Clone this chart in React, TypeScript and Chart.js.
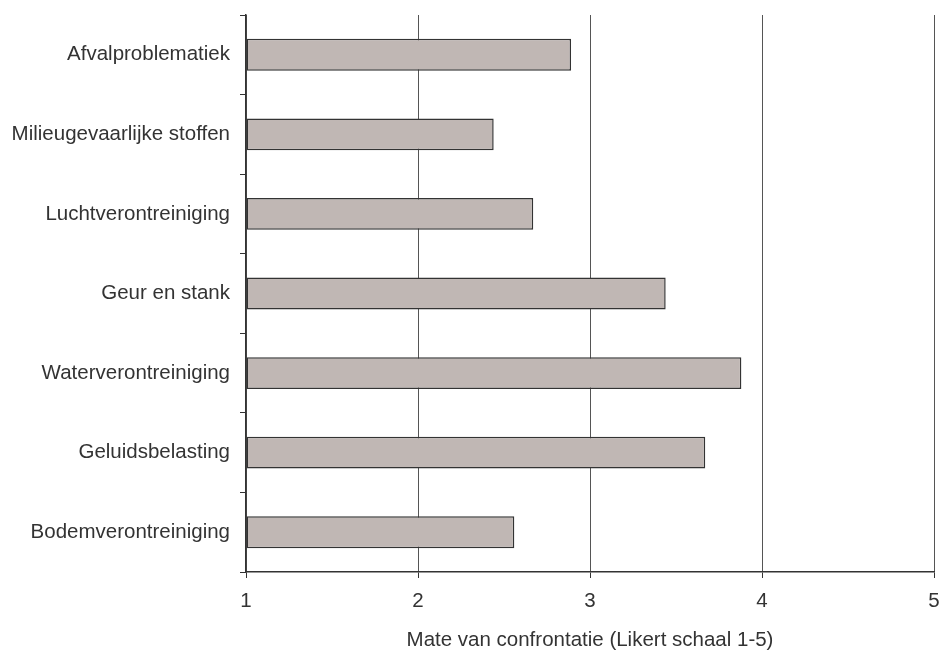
import { useEffect, useRef } from "react";
import { Chart, registerables } from "chart.js";

Chart.register(...registerables);

const categories = [
  "Afvalproblematiek",
  "Milieugevaarlijke stoffen",
  "Luchtverontreiniging",
  "Geur en stank",
  "Waterverontreiniging",
  "Geluidsbelasting",
  "Bodemverontreiniging",
];
const values = [2.89, 2.44, 2.67, 3.44, 3.88, 3.67, 2.56];
const xTicks = [1, 2, 3, 4, 5];
const xTitle = "Mate van confrontatie (Likert schaal 1-5)";

export default function App() {
  const ref = useRef<HTMLCanvasElement | null>(null);
  useEffect(() => {
    document.body.style.margin = "0";
    const font = { family: "'Liberation Sans', Arial, sans-serif", size: 20.5 };
    const chart = new Chart(ref.current!, {
      type: "bar",
      data: {
        labels: categories,
        datasets: [
          {
            data: values,
            backgroundColor: "#c0b7b4",
            borderColor: "#333333",
            borderWidth: 1.5,
            borderSkipped: false,
            barPercentage: 0.4,
            categoryPercentage: 1,
            base: 1,
          },
        ],
      },
      options: {
        indexAxis: "y",
        animation: false,
        responsive: false,
        maintainAspectRatio: false,
        layout: { padding: { top: 15, right: 0, bottom: 0, left: 0 } },
        plugins: { legend: { display: false }, tooltip: { enabled: false } },
        scales: {
          x: {
            type: "linear",
            min: 1,
            max: 5,
            afterBuildTicks: (s: any) => {
              s.ticks = xTicks.map((v) => ({ value: v }));
            },
            afterFit: (s: any) => {
              s.height = 81;
              s.paddingLeft = 0;
              s.paddingRight = 5;
            },
            grid: {
              color: "#555555",
              lineWidth: 1,
              drawTicks: true,
              tickLength: 6,
              tickColor: "#333333",
            },
            border: { display: true, color: "#333333", width: 1.5 },
            ticks: { font, color: "#333333", padding: 11 },
            title: {
              display: true,
              text: xTitle,
              font,
              color: "#333333",
              padding: { top: 14, bottom: 0 },
            },
          },
          y: {
            type: "category",
            offset: true,
            afterFit: (s: any) => {
              s.width = 246;
              s.paddingTop = 0;
              s.paddingBottom = 0;
            },
            grid: {
              offset: true,
              drawOnChartArea: false,
              drawTicks: true,
              tickLength: 6,
              tickColor: "#333333",
            },
            border: { display: true, color: "#333333", width: 1.5 },
            ticks: { font, color: "#333333", padding: 10 },
          },
        },
      },
    });
    return () => chart.destroy();
  }, []);
  return <canvas ref={ref} width={939} height={653} style={{ display: "block" }} />;
}
